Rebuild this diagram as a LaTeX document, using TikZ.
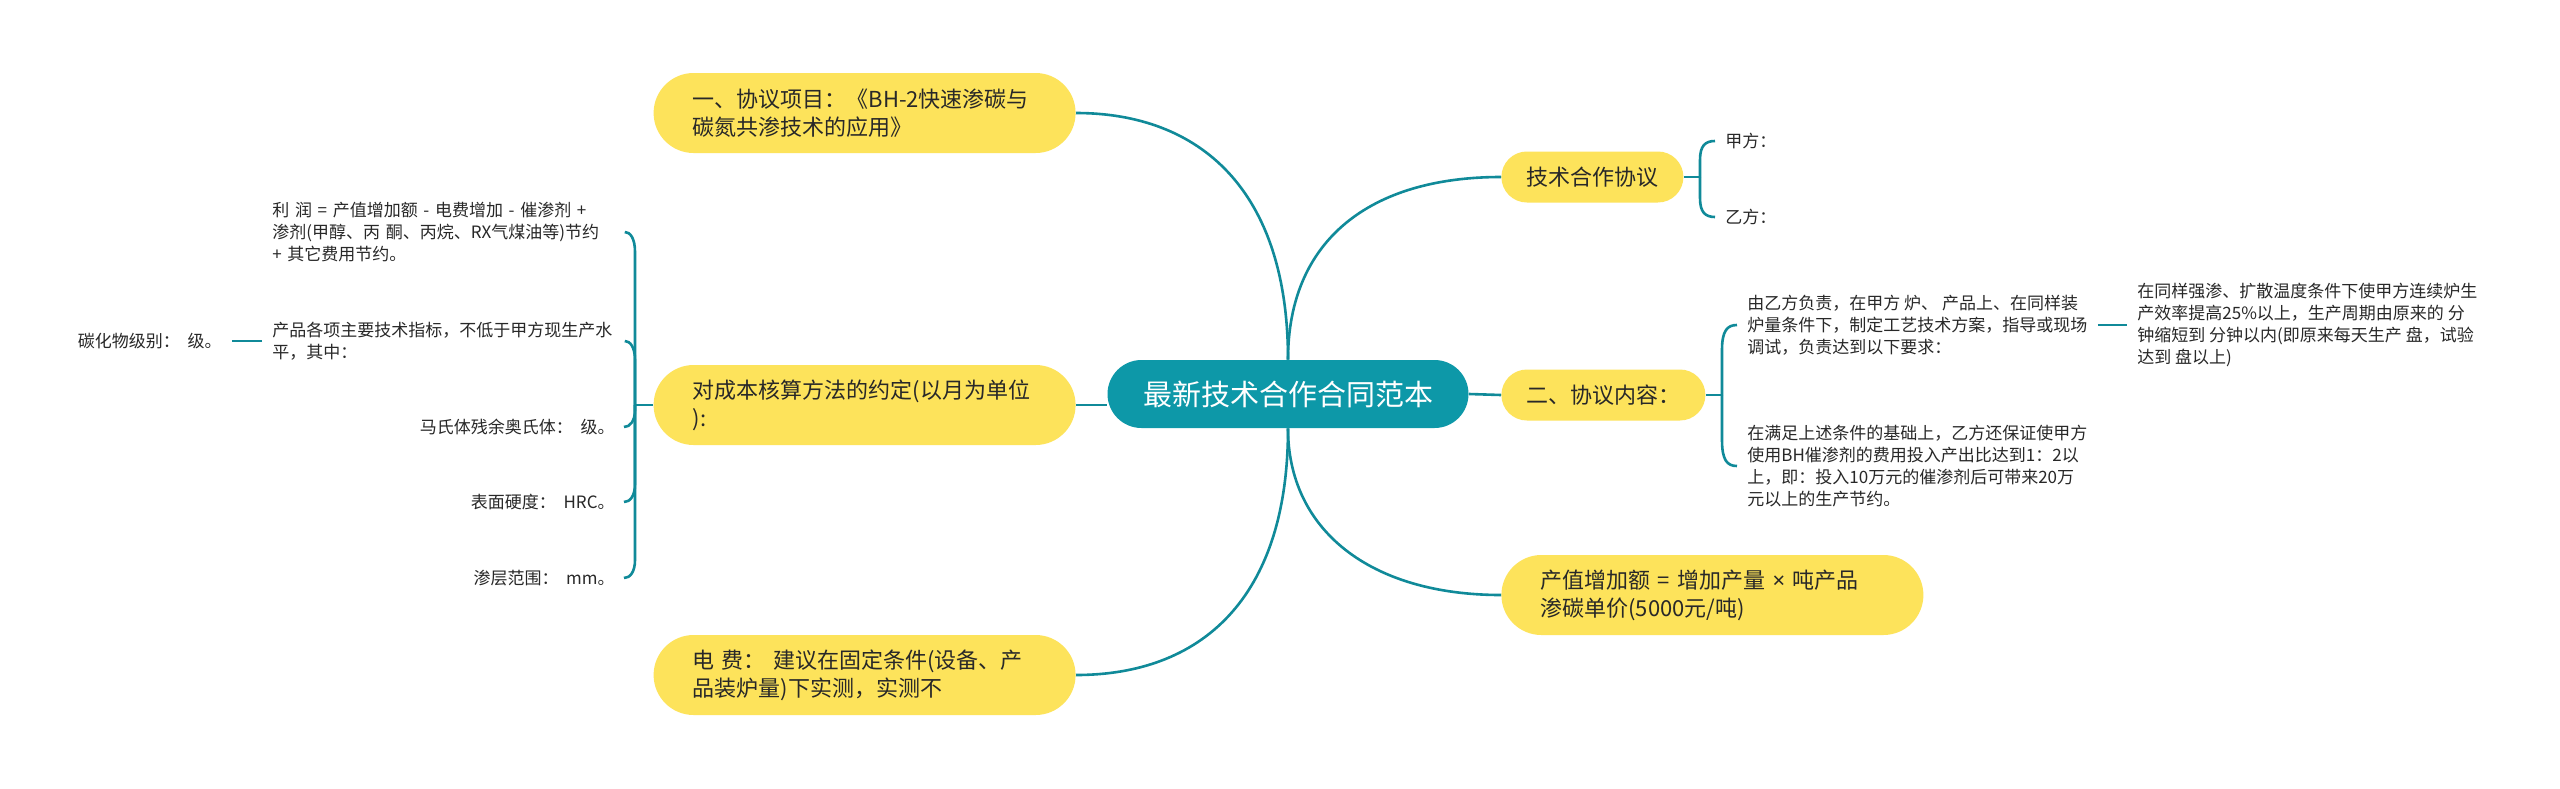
\documentclass[tikz,border=0pt]{standalone}
\usepackage{fontspec}
\setmainfont{Noto Sans CJK SC}
\newfontfamily\latinfont{Noto Sans}
\definecolor{rootfill}{RGB}{13,152,168}
\definecolor{tealline}{RGB}{16,138,153}
\definecolor{yel}{RGB}{253,227,91}
\definecolor{txt}{RGB}{40,40,40}
\tikzset{
  root/.style={fill=rootfill, text=white, rounded corners=17pt, minimum width=180.5pt, minimum height=34pt, inner sep=0pt, font=\fontsize{14.5}{18}\selectfont},
  bigbox/.style={fill=yel, text=txt, rounded corners=20pt, minimum height=40pt, text width=172pt, inner xsep=19.5pt, inner ysep=0pt, align=left, font=\fontsize{11}{14}\selectfont},
  smallbox/.style={fill=yel, text=txt, rounded corners=12.75pt, minimum height=25.5pt, inner xsep=12.5pt, inner ysep=0pt, font=\fontsize{11}{14}\selectfont},
  leaf/.style={text=txt, inner xsep=5pt, inner ysep=2pt, align=left, font=\fontsize{8.5}{11}\selectfont},
  link/.style={draw=tealline, line width=1.3pt}
}
\begin{document}
\begin{tikzpicture}[x=0.5pt, y=-0.5pt]
\path[use as bounding box, fill=white] (0,0) rectangle (2560,788);

% central and main branches
\node[root] (c) at (1288,394) {最新技术合作合同范本};
\node[bigbox, anchor=east] (a1) at (1076,113) {一、协议项目：《BH-2快速渗碳与\\碳氮共渗技术的应用》};
\node[bigbox, anchor=east] (a2) at (1076,405) {对成本核算方法的约定(以月为单位\\):};
\node[bigbox, anchor=east] (a3) at (1076,675) {电 费：\ 建议在固定条件(设备、产\\品装炉量)下实测，实测不};
\node[smallbox, anchor=west] (b1) at (1501,177) {技术合作协议};
\node[smallbox, anchor=west] (b2) at (1501,395) {二、协议内容：};
\node[bigbox, anchor=west] (b3) at (1501,595) {产值增加额 = 增加产量 {\latinfont ×} 吨产品\\渗碳单价(5000元/吨)};

% right leaves
\node[leaf, anchor=west] (j1) at (1715,141) {甲方：};
\node[leaf, anchor=west] (j2) at (1715,217) {乙方：};
\node[leaf, anchor=west] (r1) at (1737,325) {由乙方负责，在甲方 炉、 产品上、在同样装\\炉量条件下，制定工艺技术方案，指导或现场\\调试，负责达到以下要求：};
\node[leaf, anchor=west] (r2) at (1737,466) {在满足上述条件的基础上，乙方还保证使甲方\\使用BH催渗剂的费用投入产出比达到1：2以\\上，即：投入10万元的催渗剂后可带来20万\\元以上的生产节约。};
\node[leaf, anchor=west] (r3) at (2127,325) {在同样强渗、扩散温度条件下使甲方连续炉生\\产效率提高25\%以上，生产周期由原来的 分\\钟缩短到 分钟以内(即原来每天生产 盘，试验\\达到 盘以上)};

% left leaves
\node[leaf, anchor=west, text width=171pt] (l1) at (262,232) {利 润 = 产值增加额 - 电费增加 - 催渗剂 +\\渗剂(甲醇、丙 酮、丙烷、RX气煤油等)节约\\+ 其它费用节约。};
\node[leaf, anchor=west, text width=171pt] (l2) at (262,341) {产品各项主要技术指标，不低于甲方现生产水\\平，其中：};
\node[leaf, anchor=east] (l2a) at (232,341) {碳化物级别：\ \ 级。};
\node[leaf, anchor=east, inner xsep=4.5pt] (l3) at (624,427) {马氏体残余奥氏体：\ \ 级。};
\node[leaf, anchor=east, inner xsep=4.5pt] (l4) at (624,502) {表面硬度：\ \ HRC。};
\node[leaf, anchor=east, inner xsep=4.5pt] (l5) at (624,578) {渗层范围：\ \ mm。};

% main connectors
\draw[link] (c.north) .. controls (1288,190) and (1200,113) .. (a1.east);
\draw[link] (c.north) .. controls (1288,240) and (1370,177) .. (b1.west);
\draw[link] (c.south) .. controls (1288,600) and (1200,675) .. (a3.east);
\draw[link] (c.south) .. controls (1288,530) and (1370,595) .. (b3.west);
\draw[link] (a2.east) -- (a2.east -| c.west);
\draw[link] (c.east) -- (b2.west);

% brace of b1
\coordinate (tj) at (1700,177);
\draw[link] (b1.east) -- (tj);
\draw[link] (tj) -- (1700,160) .. controls (1700,146) and (1705,141) .. (j1.west);
\draw[link] (tj) -- (1700,198) .. controls (1700,212) and (1705,217) .. (j2.west);

% brace of b2
\coordinate (rj) at (1722,395);
\draw[link] (b2.east) -- (rj);
\draw[link] (rj) -- (1722,350) .. controls (1722,331) and (1727,325) .. (r1.west);
\draw[link] (rj) -- (1722,440) .. controls (1722,460) and (1727,466) .. (r2.west);
\draw[link] (r1.east) -- (r3.west);

% left brace
\coordinate (lj) at (635,405);
\draw[link] (a2.west) -- (lj);
\draw[link] (lj) -- (635,252) .. controls (635,238) and (630,232) .. (l1.east);
\draw[link] (lj) -- (635,360) .. controls (635,347) and (630,341) .. (l2.east);
\draw[link] (lj) -- (635,410) .. controls (635,421) and (630,427) .. (l3.east);
\draw[link] (lj) -- (635,484) .. controls (635,496) and (630,502) .. (l4.east);
\draw[link] (lj) -- (635,560) .. controls (635,572) and (630,578) .. (l5.east);
\draw[link] (l2.west) -- (l2a.east);
\end{tikzpicture}
\end{document}
